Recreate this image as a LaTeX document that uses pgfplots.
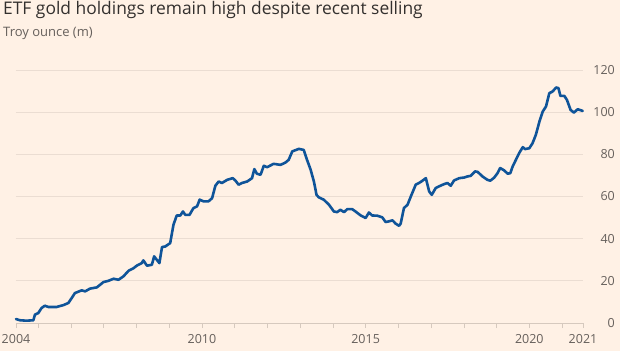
\documentclass[border=0pt]{standalone}
\usepackage{pgfplots}
\pgfplotsset{compat=1.18}
\usepackage{fontspec}
\setmainfont{Open Sans}
\definecolor{bg}{HTML}{FFF1E5}
\definecolor{ftblue}{HTML}{0F5499}
\definecolor{gridc}{HTML}{EBDDD2}
\definecolor{basec}{HTML}{D6C9BE}
\definecolor{labc}{HTML}{66605C}
\definecolor{titc}{HTML}{33302E}
\begin{document}
\begin{tikzpicture}
\useasboundingbox (0pt,0pt) rectangle (620pt,351pt);
\fill[bg] (0pt,0pt) rectangle (620pt,351pt);
\node[anchor=base west, inner sep=0pt, text=titc, font=\fontsize{17.4}{19}\selectfont] at (3pt,336pt) {ETF gold holdings remain high despite recent selling};
\node[anchor=base west, inner sep=0pt, text=labc, font=\fontsize{13}{14}\selectfont] at (3pt,314pt) {Troy ounce (m)};
\begin{axis}[
  at={(16pt,28pt)}, anchor=south west,
  scale only axis, width=567pt, height=253pt,
  xmin=2004.32, xmax=2021.64, ymin=0, ymax=120,
  axis x line*=bottom, axis y line*=right,
  x axis line style={-, draw=basec, line width=0.8pt},
  y axis line style={draw=none},
  ytick={0,20,...,120},
  yticklabel pos=right,
  ytick style={draw=none},
  ymajorgrids, grid style={gridc, line width=0.7pt},
  yticklabel style={anchor=east, inner sep=0pt, xshift=27pt, text=labc, font=\fontsize{12.5}{14}\selectfont},
  xtick={2004.32,2005,2006,2007,2008,2009,2010,2011,2012,2013,2014,2015,2016,2017,2018,2019,2020,2021,2021.64},
  xticklabels={2004,,,,,,2010,,,,,2015,,,,,2020,,2021},
  tick align=outside, major tick length=5pt,
  xtick style={draw=basec, line width=0.6pt},
  xticklabel style={inner sep=0pt, text=labc, font=\fontsize{12.5}{14}\selectfont, yshift=-6pt},
  /pgf/number format/assume math mode=true,
  clip=false,
]
\addplot[ftblue, line width=2.6pt, line join=round, line cap=round] coordinates {
(2004.32,1.9) (2004.44,1.3) (2004.64,1.1) (2004.85,1.3) (2004.90,4.0) (2005.00,4.7)
(2005.10,7.1) (2005.20,8.2) (2005.31,7.6) (2005.56,7.6) (2005.77,8.5) (2005.92,9.5)
(2006.02,11.8) (2006.12,14.2) (2006.33,15.5) (2006.43,15.0) (2006.58,16.3) (2006.79,16.9)
(2006.99,19.4) (2007.14,20.0) (2007.30,21.0) (2007.45,20.5) (2007.60,22.1) (2007.76,24.8)
(2007.91,26.0) (2008.01,27.2) (2008.16,28.4) (2008.21,29.7) (2008.32,27.2) (2008.47,27.6)
(2008.54,31.6) (2008.62,30.0) (2008.70,28.4) (2008.78,36.0) (2008.88,36.3) (2009.03,37.9)
(2009.13,46.6) (2009.23,51.0) (2009.34,51.0) (2009.42,52.9) (2009.49,51.3) (2009.62,51.3)
(2009.74,54.5) (2009.85,55.3) (2009.93,58.5) (2010.05,57.7) (2010.20,57.7) (2010.31,59.2)
(2010.41,65.1) (2010.51,67.1) (2010.61,66.4) (2010.77,67.9) (2010.94,68.7) (2011.02,67.6)
(2011.12,65.6) (2011.22,66.4) (2011.38,67.1) (2011.53,68.7) (2011.60,73.0) (2011.68,70.8)
(2011.79,70.3) (2011.89,74.6) (2011.99,73.9) (2012.19,75.5) (2012.40,75.0) (2012.55,76.1)
(2012.65,77.4) (2012.76,81.4) (2012.96,82.6) (2013.11,82.1) (2013.21,77.4) (2013.32,72.7)
(2013.42,67.1) (2013.50,60.8) (2013.57,59.6) (2013.72,58.5) (2013.88,56.1) (2014.03,52.9)
(2014.13,52.6) (2014.23,53.7) (2014.34,52.6) (2014.44,54.0) (2014.59,54.0) (2014.69,52.9)
(2014.85,51.0) (2015.00,49.8) (2015.10,52.4) (2015.20,51.0) (2015.36,50.9) (2015.51,50.1)
(2015.61,47.9) (2015.71,48.2) (2015.82,48.7) (2015.92,47.1) (2016.02,46.1) (2016.07,47.1)
(2016.17,54.5) (2016.28,56.1) (2016.38,60.0) (2016.53,65.6) (2016.63,66.4) (2016.70,67.1)
(2016.84,68.7) (2016.94,62.4) (2017.02,60.8) (2017.14,64.0) (2017.24,64.8) (2017.40,65.9)
(2017.50,66.4) (2017.60,65.1) (2017.70,67.6) (2017.86,68.7) (2018.01,69.0) (2018.11,69.5)
(2018.21,69.8) (2018.34,71.9) (2018.42,71.7) (2018.57,69.5) (2018.72,67.9) (2018.81,67.5)
(2018.93,69.0) (2019.03,71.1) (2019.11,73.5) (2019.23,72.4) (2019.34,70.8) (2019.42,71.1)
(2019.49,74.2) (2019.59,77.4) (2019.69,80.6) (2019.80,83.4) (2019.87,82.5) (2020.00,82.9)
(2020.10,85.3) (2020.20,89.3) (2020.31,95.6) (2020.41,100.3) (2020.51,102.7) (2020.61,109.0)
(2020.71,109.8) (2020.82,111.7) (2020.89,111.4) (2020.95,107.7) (2021.07,107.7) (2021.15,105.8)
(2021.26,101.1) (2021.36,99.8) (2021.48,101.4) (2021.63,100.6)
};
\end{axis}
\end{tikzpicture}
\end{document}
